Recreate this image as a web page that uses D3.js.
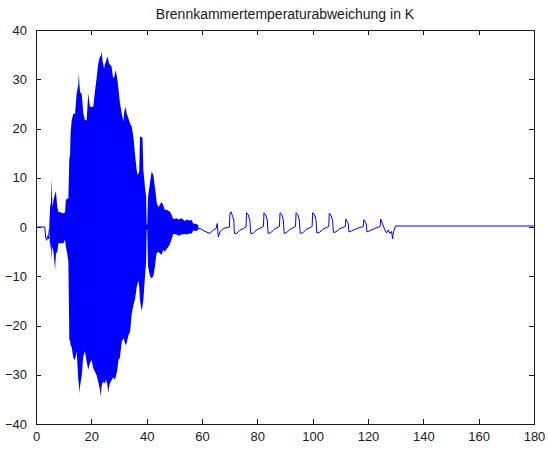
<!DOCTYPE html>
<html>
<head>
<meta charset="utf-8">
<script src="https://cdn.jsdelivr.net/npm/d3@7"></script>
<style>
  body { margin: 0; background: #fff; }
  text { font-family: "Liberation Sans", Arial, sans-serif; fill: #1a1a1a; }
</style>
</head>
<body>
<div id="chart"></div>
<script>
// Values
const title = 'Brennkammertemperaturabweichung in K';
const xTicks = [0, 20, 40, 60, 80, 100, 120, 140, 160, 180];
const yTicks = [-40, -30, -20, -10, 0, 10, 20, 30, 40];

// quiet start before the burst  [t, dT]
const leadPts = [[0, 0], [3.2, 0], [3.5, -2.2], [3.9, -2.7], [4.2, -1.8], [4.5, -2.4], [4.8, -0.5]];

// dense oscillation: envelope [t, max, min]
const envelope = [
  [4.8, 0.5, -0.5], [5.1, 4.1, -4.7], [5.4, 5.0, -3.0], [5.66, 9.9, -6.7], [5.9, 4.0, -4.0],
  [6.3, 5.5, -5.0], [6.9, 6.8, -8.7], [7.2, 7.2, -5.4], [7.7, 4.0, -5.0], [8.1, 3.1, -3.3],
  [9.9, 2.8, -3.3], [10.5, 3.0, -2.6], [10.8, 5.5, -4.0], [11.3, 5.8, -5.5], [11.7, 5.8, -7.0],
  [12.05, 14.0, -23.0], [12.3, 14.3, -23.0], [12.5, 19.0, -24.0], [12.9, 21.7, -24.4], [13.5, 23.0, -26.6],
  [14.1, 23.0, -27.0], [14.7, 27.1, -25.3], [15.3, 29.0, -31.1], [15.5, 31.2, -32.0], [15.7, 29.0, -33.7],
  [15.9, 27.5, -32.4], [16.3, 27.1, -31.0], [16.5, 27.1, -30.3], [17.1, 23.1, -26.2], [17.7, 21.7, -25.3],
  [18.3, 21.7, -27.3], [18.9, 27.1, -29.0], [19.5, 24.4, -27.6], [20.1, 24.4, -27.0], [20.7, 24.4, -28.7],
  [21.3, 27.5, -29.4], [21.9, 30.2, -30.1], [22.5, 33.2, -31.4], [23.1, 34.6, -33.0], [23.4, 34.6, -34.4],
  [23.7, 35.6, -32.4], [24.1, 33.6, -31.5], [24.6, 32.2, -31.5], [24.9, 33.0, -31.8], [25.3, 33.6, -31.0],
  [25.8, 34.6, -32.0], [26.1, 34.0, -33.7], [26.4, 33.2, -32.5], [26.7, 33.0, -31.8], [27.3, 32.6, -31.1],
  [27.9, 30.2, -30.5], [28.3, 30.5, -31.0], [28.8, 31.9, -30.5], [29.4, 30.0, -29.0], [29.8, 28.0, -27.0],
  [30.3, 25.4, -26.6], [31.0, 23.0, -23.3], [31.6, 21.4, -22.6], [31.9, 23.4, -23.0], [32.2, 24.0, -23.7],
  [32.4, 24.4, -24.0], [32.8, 23.0, -23.5], [33.4, 22.1, -22.0], [34.0, 21.0, -21.3], [34.6, 20.4, -17.6],
  [35.2, 18.3, -15.9], [35.8, 14.6, -14.6], [36.4, 11.5, -12.2], [36.7, 10.6, -11.5], [37.0, 10.8, -10.9],
  [37.3, 11.2, -12.0], [37.6, 18.3, -15.0], [38.2, 18.3, -17.0], [38.5, 18.0, -16.0], [38.8, 11.6, -14.9],
  [39.4, 8.0, -10.0], [39.8, 6.2, -7.0], [40.0, 0.5, -0.5], [40.2, 0.5, -0.5], [40.5, 6.2, -8.0],
  [41.2, 9.0, -10.0], [41.8, 11.2, -10.4], [42.4, 10.6, -10.0], [43.0, 8.0, -8.0], [43.4, 6.2, -6.0],
  [43.6, 5.1, -5.4], [44.2, 4.0, -5.0], [45.4, 5.1, -5.7], [46.0, 4.4, -4.6], [46.5, 3.5, -5.0],
  [47.2, 3.5, -4.5], [48.4, 3.1, -3.5], [49.0, 2.5, -2.5], [49.6, 1.6, -1.4], [50.2, 1.7, -1.4],
  [50.8, 1.8, -1.5], [51.5, 1.5, -1.8], [52.6, 1.8, -1.5], [53.8, 1.2, -1.4], [54.5, 1.5, -1.5],
  [55.5, 1.3, -1.3], [56.3, 1.4, -1.3], [56.8, 0.7, -0.7], [58.0, 0.6, -0.8], [58.7, 0.3, -0.5]
];

// pulses after the burst, then flat  [t, dT]
const tailPts = [
  [58.7, -0.3], [59.3, -0.3], [61.1, -0.9], [62.9, -1.3], [64.1, -0.6], [65.1, -0.3], [65.5, 0.7], [65.9, -2.0], [66.5, -1.0], [67.7, -0.3], [69.9, 0.0],
  [70.1, 2.8], [70.5, 3.1], [71.1, 2.1], [71.5, 1.4], [71.7, -1.3], [72.5, -1.3], [73.6, -0.7], [75.9, 0.0],
  [76.1, 2.9], [76.7, 2.5], [77.3, 1.4], [77.6, -1.3], [78.5, -1.3], [79.7, -0.6], [82.2, 0.1],
  [82.4, 2.9], [83.0, 2.5], [83.6, 1.4], [83.9, -1.3], [84.8, -1.2], [86.0, -0.5], [88.0, 0.1],
  [88.2, 2.9], [88.8, 2.6], [89.4, 1.4], [89.7, -1.3], [90.6, -1.1], [91.8, -0.5], [93.8, 0.1],
  [94.0, 2.9], [94.6, 2.5], [95.2, 1.4], [95.5, -1.3], [96.4, -1.2], [97.6, -0.5], [99.8, 0.1],
  [100.0, 2.9], [100.6, 2.6], [101.2, 1.5], [101.5, -1.2], [102.4, -1.1], [103.6, -0.5], [105.8, 0.1],
  [106.0, 2.8], [106.6, 2.4], [107.2, 1.3], [107.5, -1.1], [108.4, -1.0], [109.6, -0.4], [111.8, 0.1],
  [112.0, 1.6], [112.5, 1.1], [112.9, 0.6], [113.1, -1.0], [114.0, -0.8], [116.0, -0.3], [118.3, 0.1],
  [118.5, 1.5], [119.0, 1.0], [119.4, 0.6], [119.6, -1.0], [120.5, -0.8], [122.4, -0.3], [124.4, 0.1],
  [124.6, 1.6], [125.0, 1.0], [125.4, 0.4], [126.1, -0.6], [126.7, -1.2], [127.3, -0.6], [127.9, -1.3],
  [128.5, -0.9], [128.9, -2.4], [129.2, -1.0], [129.5, -0.6], [129.9, 0.2], [180, 0.2]
];

const width = 548;
const height = 456;
const margin = { top: 30, right: 14, bottom: 32, left: 36 };

const svg = d3.select('#chart')
  .append('svg')
  .attr('width', width)
  .attr('height', height);

const x = d3.scaleLinear().domain([0, 180]).range([margin.left, width - margin.right]);
const y = d3.scaleLinear().domain([-40, 40]).range([height - margin.bottom, margin.top]);

// title
svg.append('text')
  .attr('x', (x(0) + x(180)) / 2)
  .attr('y', 19)
  .attr('text-anchor', 'middle')
  .style('font-size', '14px')
  .text(title);

// burst as filled envelope
svg.append('path')
  .datum(envelope)
  .attr('fill', '#0000ff')
  .attr('d', d3.area()
    .x((d) => x(d[0]))
    .y0((d) => y(d[2]))
    .y1((d) => y(d[1])));

// line parts
const line = d3.line().x((d) => x(d[0])).y((d) => y(d[1]));
[leadPts, tailPts].forEach((pts) => {
  svg.append('path')
    .datum(pts)
    .attr('fill', 'none')
    .attr('stroke', '#0000ff')
    .attr('stroke-width', 1)
    .attr('d', line);
});

// axes, ticks pointing inward like matlab
const fmt = d3.format('d');
const gBottom = svg.append('g')
  .attr('transform', 'translate(0,' + y(-40) + ')')
  .call(d3.axisBottom(x).tickValues(xTicks).tickFormat(fmt).tickSizeInner(-5).tickSizeOuter(0).tickPadding(8));
const gLeft = svg.append('g')
  .attr('transform', 'translate(' + x(0) + ',0)')
  .call(d3.axisLeft(y).tickValues(yTicks).tickFormat(fmt).tickSizeInner(-5).tickSizeOuter(0).tickPadding(9));
const gTop = svg.append('g')
  .attr('transform', 'translate(0,' + y(40) + ')')
  .call(d3.axisTop(x).tickValues(xTicks).tickFormat('').tickSizeInner(-5).tickSizeOuter(0));
const gRight = svg.append('g')
  .attr('transform', 'translate(' + x(180) + ',0)')
  .call(d3.axisRight(y).tickValues(yTicks).tickFormat('').tickSizeInner(-5).tickSizeOuter(0));

[gBottom, gLeft, gTop, gRight].forEach((g) => {
  g.select('.domain').remove();
  g.selectAll('line').attr('stroke', '#1a1a1a').attr('shape-rendering', 'crispEdges');
  g.selectAll('text').style('font-size', '13px').style('font-family', '"Liberation Sans", Arial, sans-serif').attr('fill', '#1a1a1a');
});

// box
svg.append('rect')
  .attr('x', x(0))
  .attr('y', y(40))
  .attr('width', x(180) - x(0))
  .attr('height', y(-40) - y(40))
  .attr('fill', 'none')
  .attr('stroke', '#1a1a1a')
  .attr('shape-rendering', 'crispEdges');
</script>
</body>
</html>
